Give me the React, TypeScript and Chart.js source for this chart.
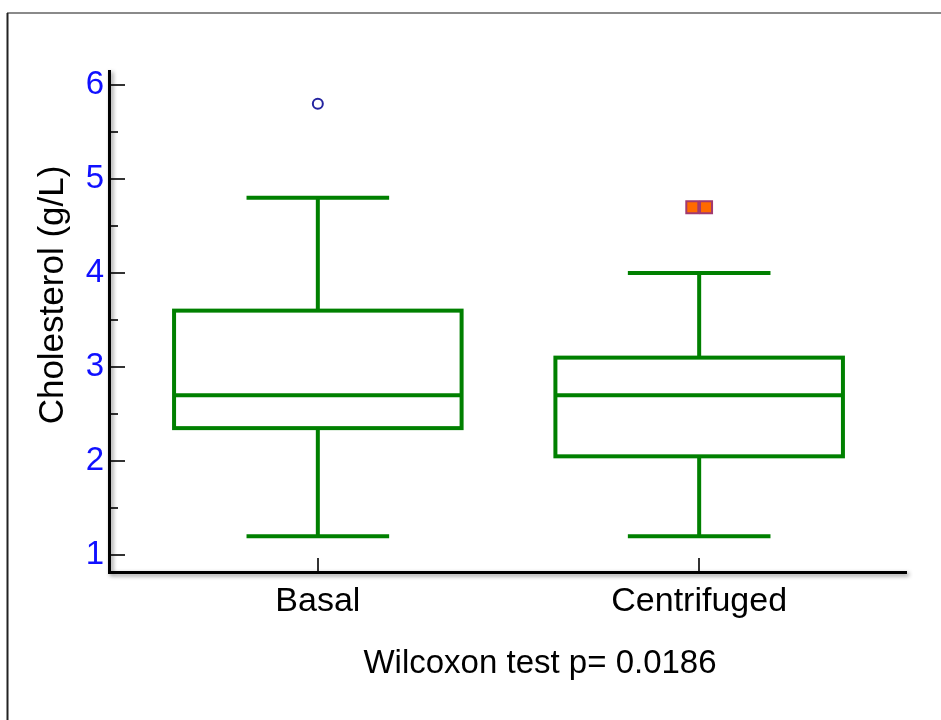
import React, { useEffect, useRef } from "react";
import { Chart, registerables } from "chart.js";

Chart.register(...registerables);

const categories = ["Basal", "Centrifuged"];
const whiskerLow = [1.2, 1.2];
const q1 = [2.35, 2.05];
const median = [2.7, 2.7];
const q3 = [3.6, 3.1];
const whiskerHigh = [4.8, 4.0];
const basalOutliers = [5.8];
const centrifugedOutliers = [4.7, 4.7];
const centrifugedJitter = [-0.018, 0.018];
const yTickValues = [1, 2, 3, 4, 5, 6];
const yMinorTickValues = [1.5, 2.5, 3.5, 4.5, 5.5];
const yTitle = "Cholesterol (g/L)";
const footnote = "Wilcoxon test p= 0.0186";

const FONT = "'Liberation Sans', Arial, Helvetica, sans-serif";
const GREEN = "rgb(0,128,0)";
const BOX_WIDTH = 0.754;
const CAP_WIDTH = 0.374;

const boxPlugin = {
  id: "boxDraw",
  beforeDraw(chart: any) {
    const ctx = chart.ctx;
    ctx.save();
    ctx.strokeStyle = "#8a8a8a";
    ctx.lineWidth = 2;
    ctx.beginPath();
    ctx.moveTo(7, 13);
    ctx.lineTo(941, 13);
    ctx.stroke();
    ctx.strokeStyle = "#222";
    ctx.beginPath();
    ctx.moveTo(7.5, 13);
    ctx.lineTo(7.5, 720);
    ctx.stroke();
    ctx.restore();
  },
  afterDatasetsDraw(chart: any) {
    const ctx = chart.ctx;
    const xs = chart.scales.x;
    const ys = chart.scales.y;
    const area = chart.chartArea;
    ctx.save();
    ctx.strokeStyle = GREEN;
    ctx.lineWidth = 4;
    ctx.lineCap = "butt";
    categories.forEach((_, i) => {
      const xl = xs.getPixelForValue(i - BOX_WIDTH / 2);
      const xr = xs.getPixelForValue(i + BOX_WIDTH / 2);
      const xc = xs.getPixelForValue(i);
      const cl = xs.getPixelForValue(i - CAP_WIDTH / 2);
      const cr = xs.getPixelForValue(i + CAP_WIDTH / 2);
      const yq1 = ys.getPixelForValue(q1[i]);
      const yq3 = ys.getPixelForValue(q3[i]);
      const ym = ys.getPixelForValue(median[i]);
      const ylo = ys.getPixelForValue(whiskerLow[i]);
      const yhi = ys.getPixelForValue(whiskerHigh[i]);
      ctx.strokeRect(xl, yq3, xr - xl, yq1 - yq3);
      ctx.beginPath();
      ctx.moveTo(xl, ym);
      ctx.lineTo(xr, ym);
      ctx.moveTo(xc, yq3);
      ctx.lineTo(xc, yhi);
      ctx.moveTo(cl, yhi);
      ctx.lineTo(cr, yhi);
      ctx.moveTo(xc, yq1);
      ctx.lineTo(xc, ylo);
      ctx.moveTo(cl, ylo);
      ctx.lineTo(cr, ylo);
      ctx.stroke();
    });
    ctx.restore();

    ctx.save();
    ctx.strokeStyle = "#333";
    ctx.lineWidth = 2;
    ctx.beginPath();
    yTickValues.forEach((v) => {
      const y = Math.round(ys.getPixelForValue(v));
      ctx.moveTo(area.left, y);
      ctx.lineTo(area.left + 15, y);
    });
    yMinorTickValues.forEach((v) => {
      const y = Math.round(ys.getPixelForValue(v));
      ctx.moveTo(area.left, y);
      ctx.lineTo(area.left + 8, y);
    });
    categories.forEach((_, i) => {
      const x = Math.round(xs.getPixelForValue(i));
      ctx.moveTo(x, area.bottom);
      ctx.lineTo(x, area.bottom - 13);
    });
    ctx.stroke();
    ctx.restore();

    ctx.save();
    ctx.shadowColor = "rgba(0,0,0,0.45)";
    ctx.shadowBlur = 4;
    ctx.shadowOffsetX = 2;
    ctx.shadowOffsetY = 2;
    ctx.strokeStyle = "#000";
    ctx.lineWidth = 3;
    ctx.lineCap = "butt";
    ctx.beginPath();
    ctx.moveTo(area.left - 0.5, area.top);
    ctx.lineTo(area.left - 0.5, area.bottom + 1.5);
    ctx.lineTo(area.right, area.bottom + 1.5);
    ctx.stroke();
    ctx.restore();

    ctx.save();
    ctx.fillStyle = "#000";
    ctx.font = `35px ${FONT}`;
    ctx.textAlign = "center";
    ctx.textBaseline = "middle";
    ctx.translate(53, 295);
    ctx.rotate(-Math.PI / 2);
    ctx.fillText(yTitle, 0, 0);
    ctx.restore();

    ctx.save();
    ctx.fillStyle = "#000";
    ctx.font = `33px ${FONT}`;
    ctx.textAlign = "center";
    ctx.textBaseline = "alphabetic";
    ctx.fillText(footnote, 540, 673);
    ctx.restore();
  },
};

export default function App() {
  const ref = useRef<HTMLCanvasElement>(null);
  useEffect(() => {
    document.body.style.margin = "0";
    const canvas = ref.current;
    if (!canvas) return;
    const chart = new Chart(canvas, {
      type: "scatter",
      data: {
        datasets: [
          {
            label: "Basal outliers",
            data: basalOutliers.map((v) => ({ x: 0, y: v })),
            pointStyle: "circle",
            pointRadius: 5,
            borderColor: "#2424a0",
            backgroundColor: "#ffffff",
            borderWidth: 2,
          },
          {
            label: "Centrifuged outliers",
            data: centrifugedOutliers.map((v, k) => ({ x: 1 + centrifugedJitter[k], y: v })),
            pointStyle: "rect",
            pointRadius: 8.5,
            borderColor: "#a03a70",
            backgroundColor: "#ff6a00",
            borderWidth: 2,
          },
        ],
      },
      options: {
        responsive: false,
        animation: false,
        events: [],
        layout: { padding: { left: 0, top: 70, right: 34, bottom: 0 } },
        plugins: { legend: { display: false }, tooltip: { enabled: false }, title: { display: false } },
        scales: {
          x: {
            type: "linear",
            min: -0.545,
            max: 1.545,
            grid: { display: false, drawTicks: false },
            border: { display: false },
            afterBuildTicks: (scale: any) => {
              scale.ticks = categories.map((_, i) => ({ value: i }));
            },
            afterFit: (scale: any) => {
              scale.height = 149;
            },
            ticks: {
              autoSkip: false,
              maxRotation: 0,
              padding: 10,
              color: "#000",
              font: { family: FONT, size: 34 },
              callback: (v: any) => categories[Math.round(Number(v))] ?? "",
            },
          },
          y: {
            type: "linear",
            min: 0.83,
            max: 6.16,
            grid: { display: false, drawTicks: false },
            border: { display: false },
            afterBuildTicks: (scale: any) => {
              scale.ticks = yTickValues.map((v) => ({ value: v }));
            },
            afterFit: (scale: any) => {
              scale.width = 110;
            },
            ticks: {
              padding: 6,
              color: "#1010ff",
              font: { family: FONT, size: 33 },
              callback: (v: any) => String(v),
            },
          },
        },
      },
      plugins: [boxPlugin],
    } as any);
    return () => chart.destroy();
  }, []);
  return (
    <canvas ref={ref} width={941} height={720} style={{ display: "block", width: 941, height: 720 }} />
  );
}
